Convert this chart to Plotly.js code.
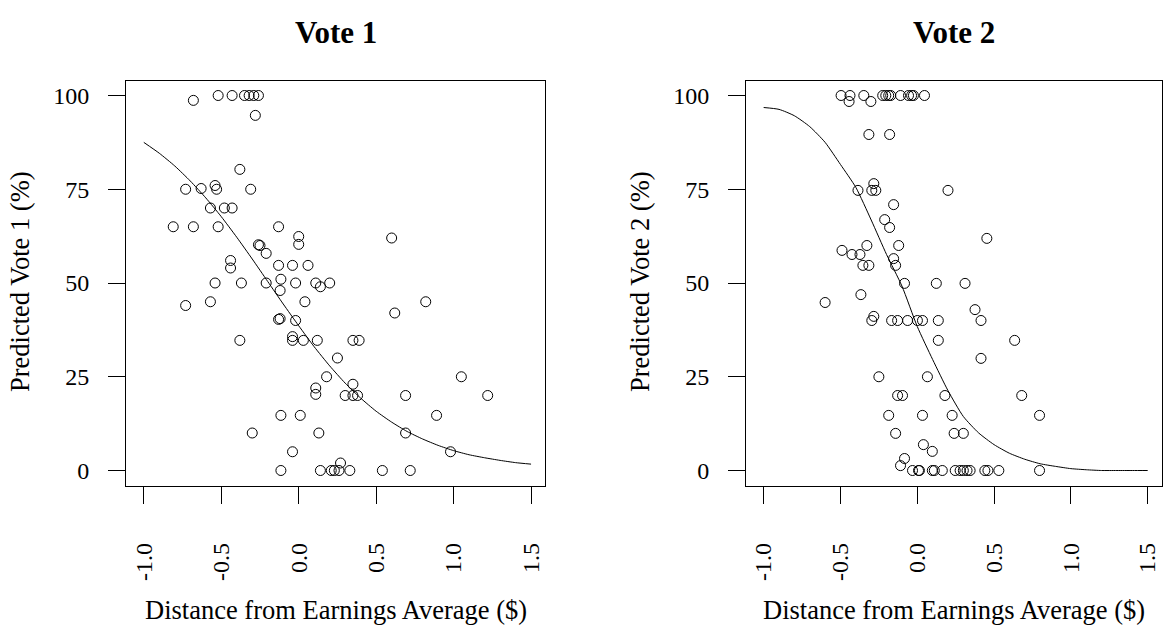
<!DOCTYPE html>
<html><head><meta charset="utf-8">
<script src="https://cdn.plot.ly/plotly-3.0.1.min.js"></script>
<style>html,body{margin:0;padding:0;background:#fff}#chart{width:1163px;height:625px}</style>
</head><body><div id="chart"></div><script>
// ---- Data ----
const xTickVals = [-1.0, -0.5, 0.0, 0.5, 1.0, 1.5];
const xTickText = ["-1.0", "-0.5", "0.0", "0.5", "1.0", "1.5"];
const yTickVals = [0, 25, 50, 75, 100];
const yTickText = ["0", "25", "50", "75", "100"];

const vote1X = [-0.68,-0.52,-0.43,-0.35,-0.32,-0.29,-0.26,-0.28,-0.38,-0.73,-0.63,-0.54,-0.53,-0.31,
  -0.57,-0.48,-0.43,-0.81,-0.68,-0.52,-0.13,0.00,0.00,-0.26,-0.25,-0.21,-0.44,-0.44,-0.13,-0.04,0.06,
  -0.54,-0.37,-0.21,-0.115,-0.02,0.11,0.14,0.20,-0.12,-0.73,-0.57,0.04,-0.13,-0.12,-0.02,-0.38,-0.04,
  -0.04,0.03,0.12,0.25,0.18,0.11,0.11,-0.115,0.01,-0.30,0.13,-0.04,-0.115,0.14,0.21,0.23,0.82,0.62,
  0.35,0.39,0.35,0.30,0.35,0.38,0.69,1.05,1.22,0.89,0.69,0.98,0.27,0.26,0.33,0.54,0.72,0.60];
const vote1Y = [98.7,100,100,100,100,100,100,94.7,80.3,75,75.2,76,75,75,
  70,70,70,65,65,65,65,62.4,60.3,60.2,60,57.9,56,54,54.7,54.7,54.7,
  50,50,50,51,50,50,49,50,48,44,45,45,40.3,40.5,40,34.7,35.7,
  34.7,34.7,34.7,30,25,22,20.3,14.7,14.7,10,10,5,0,0,0,0,45,42,
  34.7,34.7,23,20,20,20,20,25,20,14.7,10,5,2,0,0,0,0,62];

const vote2X = [-0.496,-0.438,-0.348,-0.225,-0.205,-0.186,-0.173,-0.109,-0.057,-0.037,-0.025,0.047,
  -0.444,-0.302,-0.315,-0.18,-0.283,-0.386,-0.296,-0.27,0.20,-0.154,-0.212,-0.18,-0.328,-0.121,
  -0.49,-0.425,-0.373,-0.154,-0.354,-0.315,-0.141,-0.083,0.124,0.311,0.453,-0.60,-0.367,-0.283,
  -0.296,-0.167,-0.128,-0.063,0.001,0.034,0.137,0.415,0.137,0.634,0.376,0.415,-0.25,0.066,
  -0.128,-0.096,0.18,0.68,-0.186,0.034,0.227,0.796,-0.141,0.24,0.30,0.04,0.098,-0.083,-0.109,
  -0.031,0.008,0.014,0.098,0.111,0.163,0.247,0.279,0.30,0.324,0.344,0.44,0.46,0.531,0.796];
const vote2Y = [100,100,100,100,100,100,100,100,100,100,100,100,
  98.4,98.4,89.6,89.6,76.5,74.7,74.7,74.7,74.7,70.9,66.9,64.8,60,60,
  58.7,57.6,57.6,56.5,54.7,54.7,54.7,49.9,49.9,49.9,61.9,44.8,46.9,41.1,
  40,40,40,40,40,40,40,40,34.7,34.7,42.9,29.9,25,25,
  20,20,20,20,14.7,14.7,14.7,14.7,9.9,9.9,9.9,6.9,5.1,3.2,1.3,
  0,0,0,0,0,0,0,0,0,0,0,0,0,0,0];

const curveX = [-1.0,-0.9,-0.8,-0.7,-0.6,-0.5,-0.4,-0.3,-0.2,-0.1,0.0,0.1,0.2,0.3,0.4,0.5,0.6,0.7,0.8,0.9,1.0,1.1,1.2,1.3,1.4,1.5];
const curve1Y = [87.5,84.6,81.2,77.2,72.7,67.7,62.2,56.4,50.4,44.4,38.6,33.0,27.9,23.3,19.3,15.8,12.9,10.4,8.4,6.7,5.3,4.2,3.4,2.7,2.1,1.7];
const curve2Y = [96.8,96.3,94.6,91.7,87.5,81.6,75.5,66.8,57.6,49.2,38.4,29.6,21.3,14.4,10.0,6.9,4.6,3.0,1.8,1.1,0.5,0.2,0.0,0.0,0.0,0.0];

const titles = ["Vote 1", "Vote 2"];
const yTitles = ["Predicted Vote 1 (%)", "Predicted Vote 2 (%)"];
const xTitle = "Distance from Earnings Average ($)";

// ---- Styling ----
const FONT = "Liberation Serif, Times New Roman, serif";
const mk = {symbol: "circle-open", size: 10, color: "black", line: {width: 1, color: "black"}};

const traces = [
  {x: vote1X, y: vote1Y, type: "scatter", mode: "markers", marker: mk, xaxis: "x", yaxis: "y"},
  {x: curveX, y: curve1Y, type: "scatter", mode: "lines", line: {color: "black", width: 1, shape: "spline", smoothing: 0.6}, xaxis: "x", yaxis: "y"},
  {x: vote2X, y: vote2Y, type: "scatter", mode: "markers", marker: mk, xaxis: "x2", yaxis: "y2"},
  {x: curveX, y: curve2Y, type: "scatter", mode: "lines", line: {color: "black", width: 1, shape: "spline", smoothing: 0.6}, xaxis: "x2", yaxis: "y2"}
];

const TICK = 24, AXT = 26.5, TIT = 31;
function xa(dom, anchor) {
  return {domain: dom, anchor: anchor, range: [-1.115, 1.59], tickmode: "array", tickvals: xTickVals, ticktext: xTickText,
    tickangle: -90, ticks: "outside", ticklen: 17, tickwidth: 1, tickcolor: "black", ticklabelstandoff: 30,
    showline: true, linecolor: "black", linewidth: 1, mirror: true, showgrid: false, zeroline: false,
    tickfont: {family: FONT, size: TICK, color: "black"}};
}
function ya(dom, anchor) {
  return {domain: dom, anchor: anchor, range: [-4, 104], tickmode: "array", tickvals: yTickVals, ticktext: yTickText,
    ticks: "outside", ticklen: 17, tickwidth: 1, tickcolor: "black", ticklabelstandoff: 14,
    showline: true, linecolor: "black", linewidth: 1, mirror: true, showgrid: false, zeroline: false,
    tickfont: {family: FONT, size: TICK, color: "black"}};
}
const yDom = [1 - 485.5/625, 1 - 80.5/625];
function ann(text, px, py, size, angle) {
  return {text: text, x: px/1163, y: 1 - py/625, xref: "paper", yref: "paper", showarrow: false,
    textangle: angle || 0, font: {family: FONT, size: size, color: "black"}, xanchor: "center", yanchor: "middle"};
}
const layout = {
  width: 1163, height: 625, margin: {l: 0, r: 0, t: 0, b: 0}, showlegend: false,
  paper_bgcolor: "white", plot_bgcolor: "white", font: {family: FONT, color: "black"},
  xaxis: xa([126/1163, 545/1163], "y"),
  yaxis: ya(yDom, "x"),
  xaxis2: xa([746/1163, 1161.5/1163], "y2"),
  yaxis2: ya(yDom, "x2"),
  annotations: [
    ann("<b>" + titles[0] + "</b>", 336, 33, TIT),
    ann("<b>" + titles[1] + "</b>", 954, 33, TIT),
    ann(yTitles[0], 20, 282, AXT, -90),
    ann(yTitles[1], 640, 282, AXT, -90),
    ann(xTitle, 336, 610, AXT),
    ann(xTitle, 954, 610, AXT)
  ]
};
Plotly.newPlot("chart", traces, layout, {displayModeBar: false, staticPlot: true});
</script></body></html>
